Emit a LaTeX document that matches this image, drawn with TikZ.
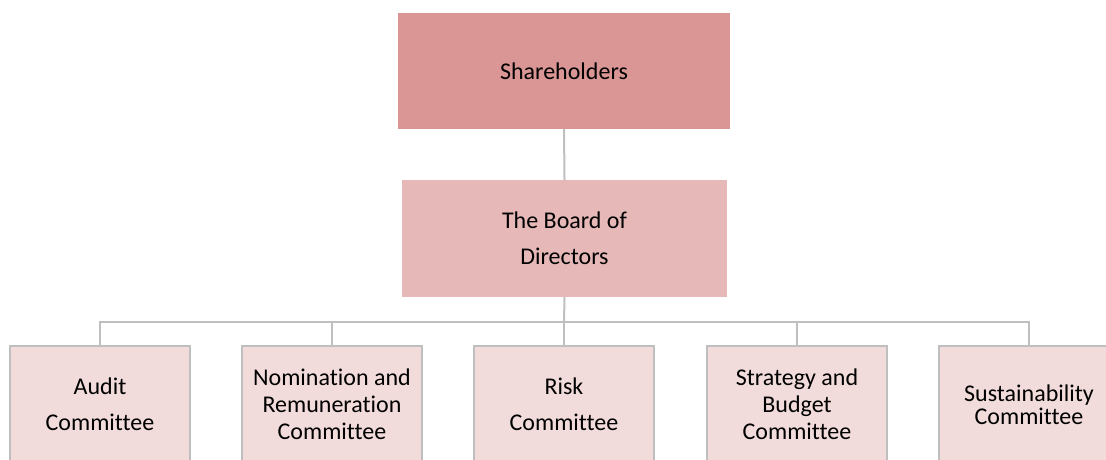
\documentclass[tikz,border=0pt]{standalone}
\usepackage{fontspec}
\setmainfont[Ligatures=NoCommon]{Carlito}

\definecolor{shareholdercol}{HTML}{D99694}
\definecolor{boardcol}{HTML}{E6B9B8}
\definecolor{committeecol}{HTML}{F2DCDB}
\definecolor{linecol}{HTML}{BFBFBF}

\begin{document}
\begin{tikzpicture}[x=1pt, y=-1pt,
  topbox/.style={align=center, inner sep=0pt, font=\fontsize{24}{27}\selectfont},
  combox/.style={draw=linecol, line width=1.6pt, fill=committeecol, align=center,
    inner sep=0pt, minimum width=180pt, minimum height=117pt,
    font=\fontsize{24}{27}\selectfont},
  link/.style={draw=linecol, line width=2pt}]

\useasboundingbox (0,0) rectangle (1106,459);

\node[topbox, fill=shareholdercol, minimum width=332pt, minimum height=116pt] (share) at (564,71) {Shareholders};

\node[topbox, fill=boardcol, minimum width=325pt, minimum height=117pt] (board) at (564.5,238.5) {The Board of\\[9pt]Directors};

\node[combox] (audit) at (100,404.5) {Audit\\[9pt]Committee};
\node[combox] (nomination) at (332,404.5) {Nomination and\\Remuneration\\Committee};
\node[combox] (risk) at (564,404.5) {Risk\\[9pt]Committee};
\node[combox] (strategy) at (797,404.5) {Strategy and\\Budget\\Committee};
\node[combox] (sustain) at (1029,404.5) {Sustainability\\[-4pt]Committee};

\coordinate (bus) at (564,322);

\path[link] (share.south) -- (board.north);
\path[link] (board.south) -- (bus);

\foreach \c in {audit, nomination, risk, strategy, sustain}
  \path[link] (\c.north) |- (bus);

\end{tikzpicture}
\end{document}
